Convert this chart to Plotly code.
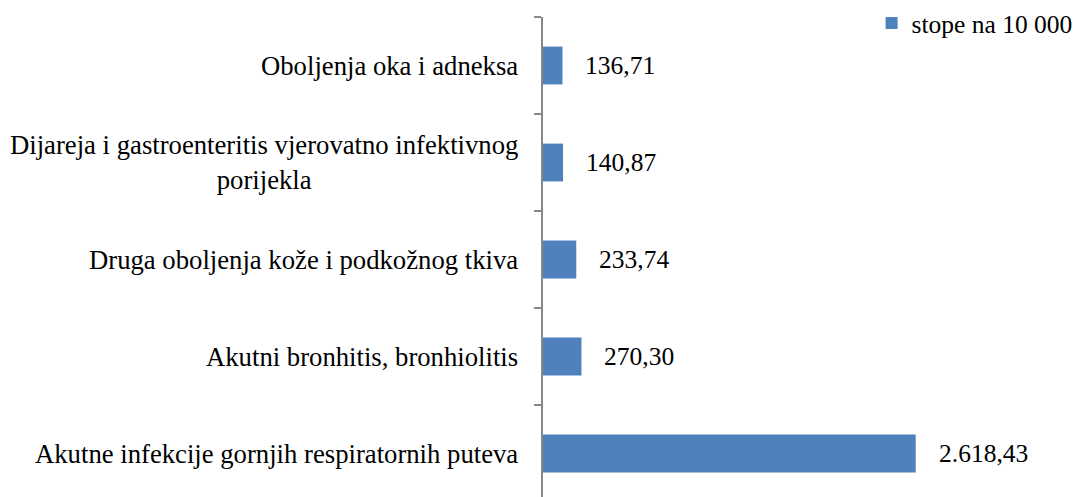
import plotly.graph_objects as go

categories = [
    "Akutne infekcije gornjih respiratornih puteva",
    "Akutni bronhitis, bronhiolitis",
    "Druga oboljenja kože i podkožnog tkiva",
    "Dijareja i gastroenteritis vjerovatno infektivnog<br>porijekla",
    "Oboljenja oka i adneksa",
]
values = [2618.43, 270.30, 233.74, 140.87, 136.71]
series_name = "stope na 10 000"

FONT = "Liberation Serif"
BLUE = "#4F81BD"


def fmt(v):
    s = f"{v:,.2f}"
    return s.replace(",", "X").replace(".", ",").replace("X", ".")


fig = go.Figure()
fig.add_trace(go.Bar(
    y=categories, x=values, orientation="h", name=series_name,
    marker=dict(color=BLUE, line=dict(width=0)), width=0.39,
    showlegend=True,
))

for c, v in zip(categories, values):
    fig.add_annotation(x=v, y=c, xref="x", yref="y", text=fmt(v),
                       showarrow=False, xanchor="left", xshift=21,
                       font=dict(family=FONT, size=25.5, color="#000"))
    fig.add_annotation(x=0, y=c, xref="paper", yref="y", text=c,
                       showarrow=False, xanchor="right", xshift=-23,
                       align="center",
                       font=dict(family=FONT, size=26.7, color="#000"))

fig.update_layout(
    width=1083, height=497,
    margin=dict(l=543, r=113, t=17, b=0, autoexpand=False),
    paper_bgcolor="white", plot_bgcolor="white",
    font=dict(family=FONT, size=25.5, color="#000"),
    legend=dict(x=0.995, xanchor="right", xref="container", y=1.024, yanchor="top",
                yref="container", bgcolor="rgba(0,0,0,0)",
                font=dict(family=FONT, size=25.5, color="#000"),
                itemwidth=30, tracegroupgap=0),
    xaxis=dict(range=[0, 3000], showgrid=False, zeroline=False,
               showline=False, showticklabels=False, ticks=""),
    yaxis=dict(type="category", categoryorder="array", categoryarray=categories,
               range=[-0.448, 4.5], showgrid=False, zeroline=False,
               showline=True, linecolor="#888888", linewidth=1.5,
               ticks="outside", tickson="boundaries", ticklen=7,
               tickcolor="#888888", tickwidth=1.5, showticklabels=False),
)

fig.write_html("out.html", config={"displayModeBar": False},
               post_script="document.body.style.margin='0';")
